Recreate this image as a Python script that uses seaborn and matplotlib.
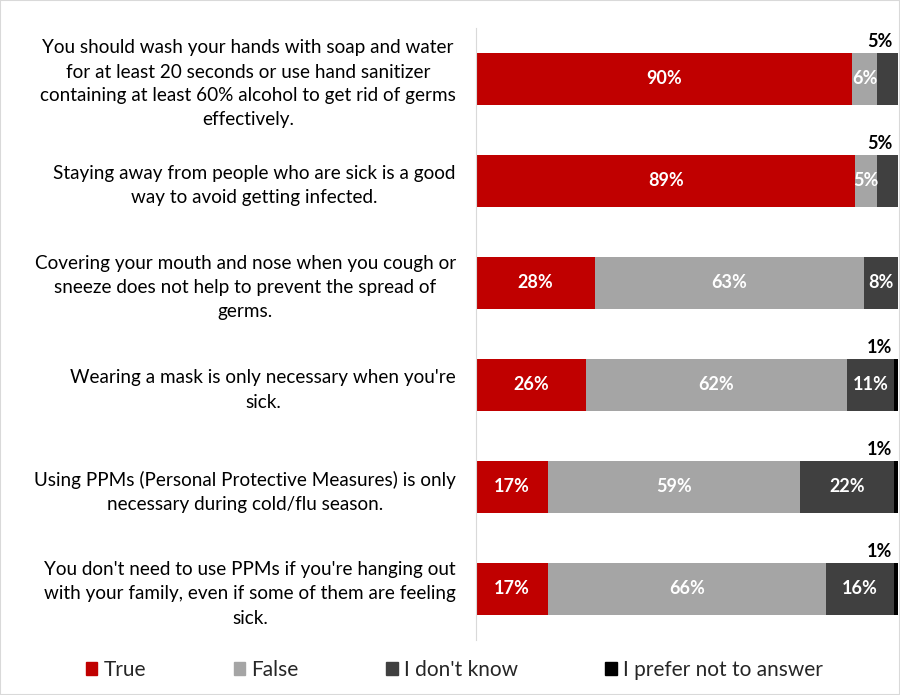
import matplotlib
matplotlib.use('Agg')
import matplotlib.pyplot as plt
import seaborn as sns
import numpy as np
import pandas as pd
from matplotlib.patches import Rectangle, Patch

# 数据
statements = [
    "You should wash your hands with soap and water\nfor at least 20 seconds or use hand sanitizer\ncontaining at least 60% alcohol to get rid of germs\neffectively.",
    "Staying away from people who are sick is a good\nway to avoid getting infected.",
    "Covering your mouth and nose when you cough or\nsneeze does not help to prevent the spread of\ngerms.",
    "Wearing a mask is only necessary when you're\nsick.",
    "Using PPMs (Personal Protective Measures) is only\nnecessary during cold/flu season.",
    "You don't need to use PPMs if you're hanging out\nwith your family, even if some of them are feeling\nsick.",
]
answers = ['True', 'False', "I don't know", 'I prefer not to answer']
true_pct = [90, 89, 28, 26, 17, 17]
false_pct = [6, 5, 63, 62, 59, 66]
dont_know_pct = [5, 5, 8, 11, 22, 16]
no_answer_pct = [0, 0, 0, 1, 1, 1]
colors = ['#C00000', '#A5A5A5', '#404040', '#000000']
# 哪个分段的标签放在柱子上方
outside = [2, 2, None, 3, 3, 3]

sns.set_style('white')
plt.rcParams['font.family'] = ['Lato', 'DejaVu Sans']

df = pd.DataFrame({'statement': statements, 'True': true_pct, 'False': false_pct,
                   "I don't know": dont_know_pct, 'I prefer not to answer': no_answer_pct})
segs = df[answers].values
# 100% 堆叠：每行归一化
norm = segs / segs.sum(axis=1, keepdims=True) * 100
cum = np.cumsum(norm, axis=1)

fig = plt.figure(figsize=(9, 6.95), dpi=100)
ax = fig.add_axes([476 / 900, 1 - 640 / 695, 422 / 900, 612 / 695])

# 从累计最大值往回画
for i in range(3, -1, -1):
    sns.barplot(x=cum[:, i], y=df['statement'], color=colors[i], orient='h',
                width=0.51, ax=ax, saturation=1, edgecolor='none')

ax.set_xlim(0, 100)
ax.set_ylim(5.5, -0.5)
ax.set_xlabel('')
ax.set_ylabel('')
ax.set_xticks([])
ax.tick_params(axis='y', which='major', length=0, pad=14.5, labelsize=13.6, labelcolor='#000000')
ax.set_yticks(np.arange(-0.5, 6, 1), minor=True)
ax.tick_params(axis='y', which='minor', length=6, color='#d9d9d9', width=1)
for lbl in ax.get_yticklabels():
    lbl.set_multialignment('center')
    lbl.set_linespacing(1.5)
for s in ['top', 'right', 'bottom']:
    ax.spines[s].set_visible(False)
ax.spines['left'].set_color('#d9d9d9')

# 数值标签
for r in range(len(statements)):
    for i in range(4):
        v = segs[r, i]
        if v == 0:
            continue
        if outside[r] == i:
            ax.annotate(f'{v}%', xy=(100, r - 0.255), xytext=(-4, 2),
                        textcoords='offset points', ha='right', va='bottom',
                        fontsize=13, fontweight='bold', color='black')
        else:
            ax.text(cum[r, i] - norm[r, i] / 2, r, f'{v}%', ha='center', va='center',
                    fontsize=13, fontweight='bold', color='white')

handles = [Patch(color=c) for c in colors]
fig.legend(handles, answers, loc='center', bbox_to_anchor=(0.505, 1 - 670 / 695), ncol=4,
           frameon=False, fontsize=15, handlelength=0.55, handleheight=0.55,
           handletextpad=0.3, columnspacing=4.2)

fig.patches.append(Rectangle((0, 0), 1, 1, transform=fig.transFigure, fill=False,
                             edgecolor='#d9d9d9', linewidth=1.5))

fig.savefig('out.png', dpi=100)
